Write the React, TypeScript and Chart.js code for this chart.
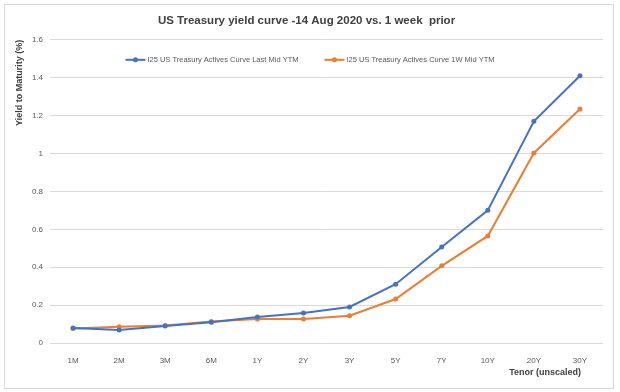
import React, { useEffect, useRef } from "react";
import { Chart, registerables } from "chart.js";

Chart.register(...registerables);

const tenors = ["1M", "2M", "3M", "6M", "1Y", "2Y", "3Y", "5Y", "7Y", "10Y", "20Y", "30Y"];
const lastMidYtm = [0.079, 0.069, 0.09, 0.11, 0.137, 0.158, 0.19, 0.31, 0.507, 0.70, 1.17, 1.41];
const oneWeekMidYtm = [0.077, 0.086, 0.093, 0.113, 0.127, 0.127, 0.144, 0.232, 0.407, 0.565, 1.003, 1.235];
const seriesNames = [
  "I25 US Treasury Actives Curve Last Mid YTM",
  "I25 US Treasury Actives Curve 1W Mid YTM",
];
const yTickLabels = ["0", "0.2", "0.4", "0.6", "0.8", "1", "1.2", "1.4", "1.6"];
const titleText = "US Treasury yield curve -14 Aug 2020 vs. 1 week  prior";
const yTitle = "Yield to Maturity (%)";
const xTitle = "Tenor (unscaled)";

const BLUE = "#4472C4";
const ORANGE = "#ED7D31";
const TEXT = "#595959";
const FONT = "'Liberation Sans', Arial, sans-serif";

const framePlugin = {
  id: "frame",
  beforeDraw(chart: any) {
    const { ctx, width, height } = chart;
    ctx.save();
    ctx.fillStyle = "#ffffff";
    ctx.fillRect(0, 0, width, height);
    ctx.strokeStyle = "#d9d9d9";
    ctx.lineWidth = 1;
    ctx.strokeRect(4.5, 4.5, 609, 384);
    ctx.restore();
  },
  afterDraw(chart: any) {
    const { ctx, chartArea } = chart;
    ctx.save();
    // axis titles
    ctx.fillStyle = "#404040";
    ctx.font = `bold 9px ${FONT}`;
    ctx.textBaseline = "middle";
    ctx.save();
    ctx.translate(20, chartArea.top);
    ctx.rotate(-Math.PI / 2);
    ctx.textAlign = "right";
    ctx.fillText(yTitle, 0, 0);
    ctx.restore();
    ctx.textAlign = "right";
    ctx.fillText(xTitle, chartArea.right - 22, 373);

    // horizontal legend inside the plot area
    const ds = chart.data.datasets;
    ctx.font = `7.5px ${FONT}`;
    const lineW = 22;
    const gap = 26;
    const widths = ds.map((d: any) => lineW + ctx.measureText(d.label).width);
    const total = widths.reduce((a: number, b: number) => a + b, 0) + gap * (ds.length - 1);
    let x = chart.width / 2 - total / 2;
    const y = chartArea.top + 20;
    ds.forEach((d: any, i: number) => {
      ctx.strokeStyle = d.borderColor;
      ctx.lineWidth = 2;
      ctx.beginPath();
      ctx.moveTo(x, y);
      ctx.lineTo(x + lineW - 2, y);
      ctx.stroke();
      ctx.fillStyle = d.borderColor;
      ctx.beginPath();
      ctx.arc(x + (lineW - 2) / 2, y, 2.5, 0, Math.PI * 2);
      ctx.fill();
      ctx.fillStyle = TEXT;
      ctx.textAlign = "left";
      ctx.fillText(d.label, x + lineW, y);
      x += widths[i] + gap;
    });
    ctx.restore();
  },
};

export default function App() {
  const ref = useRef<HTMLCanvasElement | null>(null);
  useEffect(() => {
    if (!ref.current) return;
    const chart = new Chart(ref.current, {
      type: "line",
      data: {
        labels: tenors,
        datasets: [
          {
            label: seriesNames[0],
            data: lastMidYtm,
            borderColor: BLUE,
            backgroundColor: BLUE,
            borderWidth: 2,
            pointRadius: 2.5,
            pointBorderWidth: 0,
            tension: 0,
          },
          {
            label: seriesNames[1],
            data: oneWeekMidYtm,
            borderColor: ORANGE,
            backgroundColor: ORANGE,
            borderWidth: 2,
            pointRadius: 2.5,
            pointBorderWidth: 0,
            tension: 0,
          },
        ],
      },
      options: {
        responsive: false,
        animation: false,
        layout: { padding: { left: 10, right: 17, top: 10, bottom: 8 } },
        plugins: {
          title: {
            display: true,
            text: titleText,
            color: "#404040",
            font: { family: FONT, size: 11.5, weight: "bold" },
            padding: { top: 4, bottom: 12 },
          },
          legend: { display: false },
          tooltip: { enabled: false },
        },
        scales: {
          x: {
            type: "category",
            offset: true,
            grid: { display: false },
            border: { display: false },
            ticks: { color: TEXT, font: { family: FONT, size: 8 }, padding: 5, maxRotation: 0, autoSkip: false },
            afterFit: (s: any) => {
              s.height = 41;
            },
          },
          y: {
            min: 0,
            max: 1.6,
            ticks: {
              stepSize: 0.2,
              color: TEXT,
              font: { family: FONT, size: 8 },
              padding: 7,
              callback: (_v: any, i: number) => yTickLabels[i],
            },
            grid: { color: "#d9d9d9", lineWidth: 1, drawTicks: false },
            border: { display: false },
            afterFit: (s: any) => {
              s.width = 40;
            },
          },
        },
      },
      plugins: [framePlugin],
    } as any);
    return () => chart.destroy();
  }, []);
  return (
    <div style={{ position: "fixed", left: 0, top: 0, width: 620, height: 392 }}>
      <canvas ref={ref} width={620} height={392} style={{ width: 620, height: 392 }} />
    </div>
  );
}
